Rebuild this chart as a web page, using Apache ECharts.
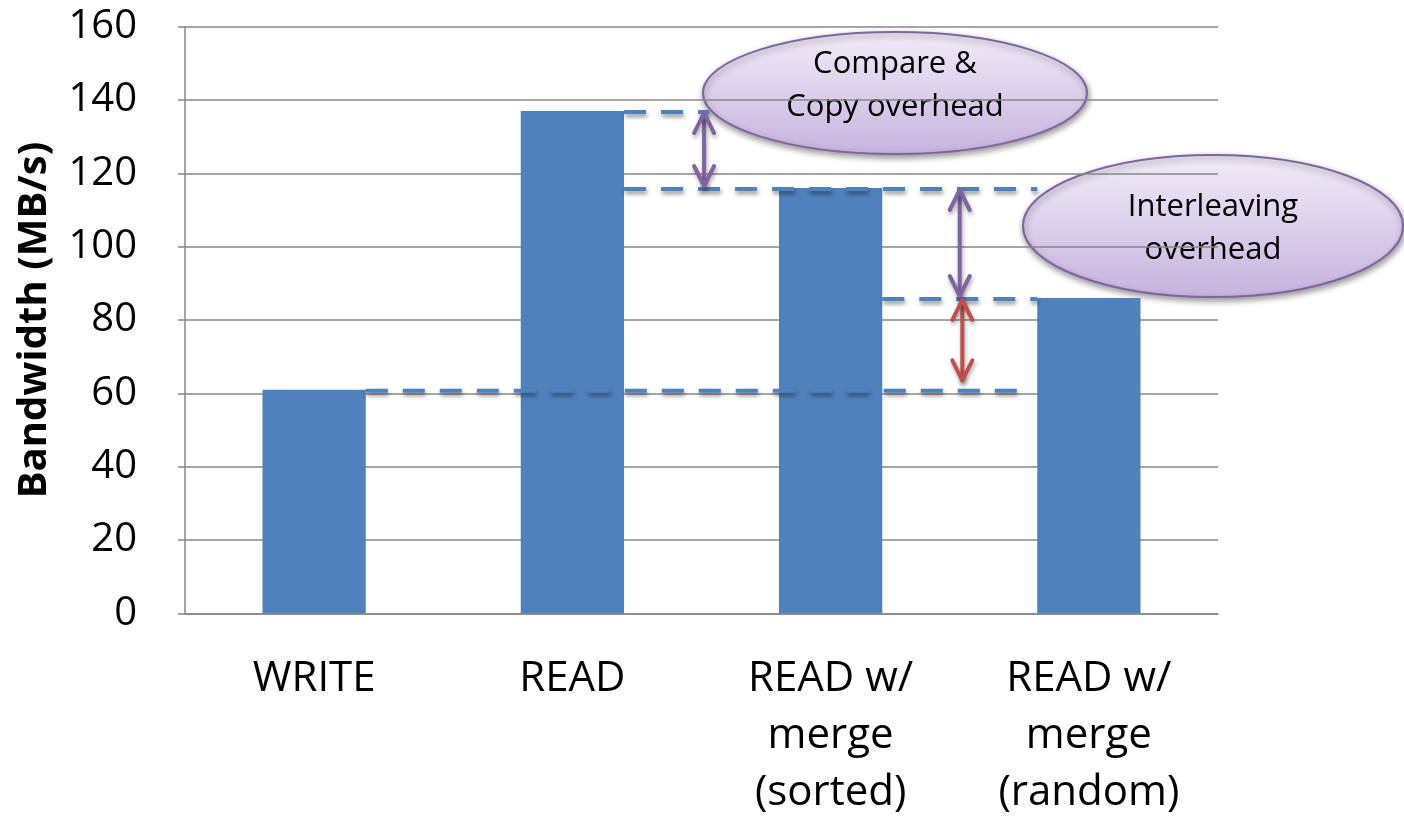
<!DOCTYPE html>
<html>
<head>
<meta charset="utf-8">
<style>
  html, body { margin: 0; padding: 0; background: #fff; }
  #chart { width: 1404px; height: 816px; }
</style>
<script src="https://cdn.jsdelivr.net/npm/echarts@6/dist/echarts.min.js"></script>
</head>
<body>
<div id="chart"></div>
<script>
// Measured bandwidth per workload
const categories = ['WRITE', 'READ', 'READ w/\nmerge\n(sorted)', 'READ w/\nmerge\n(random)'];
const bandwidth = [61, 137, 116, 86];

// Y axis scale (MB/s)
const yMin = 0;
const yMax = 160;
const yStep = 20;

// Dashed reference levels: [x start, x end, level] on a 0..4 category-span axis
const guideLevels = [
  [0.70, 3.245, bandwidth[0]],
  [1.70, 2.03, bandwidth[1]],
  [1.70, 3.30, bandwidth[2]],
  [2.70, 3.30, bandwidth[3]]
];

// Overhead arrows: [x, upper level, lower level]
const purpleArrows = [
  [2.01, bandwidth[1], bandwidth[2]],
  [3.00, bandwidth[2], bandwidth[3]]
];
const redArrows = [
  [3.01, bandwidth[3], 63]
];

// Callout texts
const calloutTexts = ['Compare &\nCopy overhead', 'Interleaving\noverhead'];

const FONT = '"Open Sans", "Noto Sans", sans-serif';
const GRID_COLOR = '#878787';
const BAR_COLOR = '#4F81BD';

function guideItem(params, api) {
  const a = api.coord([api.value(0), api.value(2)]);
  const b = api.coord([api.value(1), api.value(2)]);
  return {
    type: 'line',
    shape: { x1: a[0], y1: a[1] + 1, x2: b[0], y2: b[1] + 1 },
    style: {
      stroke: BAR_COLOR, lineWidth: 4, lineDash: [22, 15],
      shadowBlur: 4, shadowOffsetX: 1, shadowOffsetY: 3,
      shadowColor: 'rgba(0,0,0,0.45)'
    }
  };
}

function arrowRenderer(color) {
  return function (params, api) {
    const t = api.coord([api.value(0), api.value(1)]);
    const b = api.coord([api.value(0), api.value(2)]);
    const style = {
      stroke: color, lineWidth: 4, lineCap: 'round', lineJoin: 'round', fill: null,
      shadowBlur: 4, shadowOffsetX: 1, shadowOffsetY: 3, shadowColor: 'rgba(0,0,0,0.35)'
    };
    const hw = 10, hl = 20, inset = 2;
    const ty = t[1] + inset, by = b[1] - inset;
    return {
      type: 'group',
      children: [
        { type: 'line', shape: { x1: t[0], y1: ty, x2: b[0], y2: by }, style: style },
        { type: 'polyline', shape: { points: [[t[0] - hw, ty + hl], [t[0], ty], [t[0] + hw, ty + hl]] }, style: style },
        { type: 'polyline', shape: { points: [[b[0] - hw, by - hl], [b[0], by], [b[0] + hw, by - hl]] }, style: style }
      ]
    };
  };
}

function callout(cx, cy, rx, ry, text, textDy) {
  return {
    type: 'group',
    z: 100,
    children: [
      {
        type: 'ellipse',
        shape: { cx: cx, cy: cy, rx: rx, ry: ry },
        style: {
          fill: new echarts.graphic.LinearGradient(0, 0, 0, 1, [
            { offset: 0, color: '#F1ECF8' },
            { offset: 1, color: '#C6B3DE' }
          ]),
          stroke: '#8064A2', lineWidth: 2,
          shadowBlur: 6, shadowOffsetX: 1, shadowOffsetY: 3, shadowColor: 'rgba(0,0,0,0.4)'
        }
      },
      {
        type: 'text',
        style: {
          text: text, x: cx, y: cy + textDy, align: 'center', verticalAlign: 'middle',
          font: '31px ' + FONT, lineHeight: 43, fill: '#000'
        }
      }
    ]
  };
}

const chart = echarts.init(document.getElementById('chart'));
chart.setOption({
  animation: false,
  backgroundColor: '#fff',
  grid: {
    left: 185, right: 186, top: 26.7, bottom: 202.7,
    containLabel: false, outerBoundsMode: 'none'
  },
  xAxis: [
    {
      type: 'category',
      data: categories,
      axisLine: { lineStyle: { color: GRID_COLOR, width: 1.5 } },
      axisTick: { length: 15, lineStyle: { color: GRID_COLOR, width: 1.5 } },
      axisLabel: { fontFamily: FONT, fontSize: 42, lineHeight: 57, color: '#000', margin: 37, interval: 0 }
    },
    { type: 'value', min: 0, max: 4, show: false }
  ],
  yAxis: {
    type: 'value',
    min: yMin, max: yMax, interval: yStep,
    name: 'Bandwidth (MB/s)',
    nameLocation: 'middle',
    nameGap: 130,
    nameTextStyle: { fontFamily: FONT, fontSize: 40, fontWeight: 'bold', color: '#000' },
    axisLine: { show: true, lineStyle: { color: GRID_COLOR, width: 1.5 } },
    axisTick: { show: true, length: 7, lineStyle: { color: GRID_COLOR, width: 1.5 } },
    axisLabel: { fontFamily: FONT, fontSize: 40, color: '#000', margin: 48 },
    splitLine: { lineStyle: { color: GRID_COLOR, width: 1.5 } }
  },
  series: [
    {
      type: 'bar',
      data: bandwidth,
      barWidth: '40%',
      itemStyle: { color: BAR_COLOR },
      z: 2
    },
    {
      type: 'custom',
      xAxisIndex: 1,
      data: guideLevels,
      encode: { x: [0, 1], y: 2 },
      renderItem: guideItem,
      z: 5
    },
    {
      type: 'custom',
      xAxisIndex: 1,
      data: purpleArrows,
      encode: { x: 0, y: [1, 2] },
      renderItem: arrowRenderer('#8064A2'),
      z: 6
    },
    {
      type: 'custom',
      xAxisIndex: 1,
      data: redArrows,
      encode: { x: 0, y: [1, 2] },
      renderItem: arrowRenderer('#C0504D'),
      z: 6
    }
  ],
  graphic: [
    callout(895, 93, 192, 61, calloutTexts[0], -7),
    callout(1213, 226, 190, 71, calloutTexts[1], 3)
  ]
});
</script>
</body>
</html>
